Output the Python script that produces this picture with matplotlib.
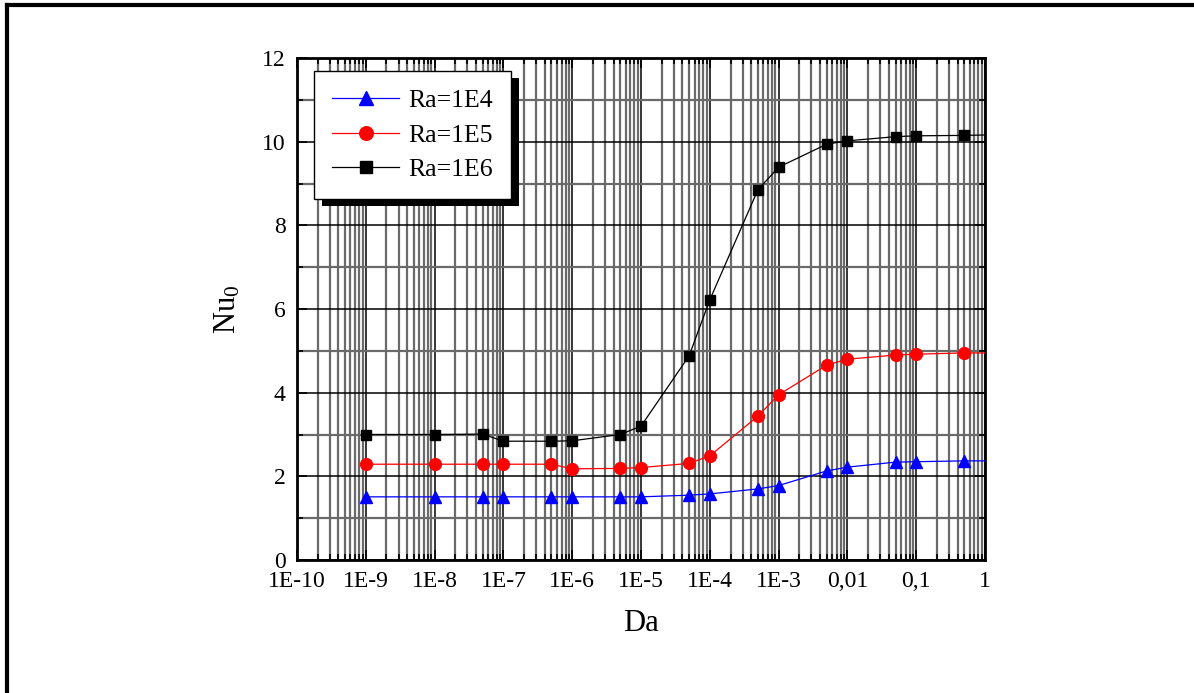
import numpy as np
import matplotlib.pyplot as plt
from matplotlib.lines import Line2D
from matplotlib.patches import Rectangle
from matplotlib.transforms import IdentityTransform
from matplotlib.ticker import LogLocator, NullFormatter, MultipleLocator

plt.rcParams['font.family'] = ['Liberation Serif', 'DejaVu Serif']
plt.rcParams['mathtext.fontset'] = 'custom'
plt.rcParams['mathtext.rm'] = 'Liberation Serif'
plt.rcParams['mathtext.it'] = 'Liberation Serif:italic'

# Darcy numbers (last value at Da=1 only continues the line, no marker)
da = [1e-9, 1e-8, 5e-8, 1e-7, 5e-7, 1e-6, 5e-6, 1e-5, 5e-5, 1e-4,
      5e-4, 1e-3, 5e-3, 1e-2, 5e-2, 1e-1, 5e-1, 1.0]
nu_ra1e4 = [1.51, 1.51, 1.51, 1.51, 1.51, 1.51, 1.51, 1.51, 1.55, 1.58,
            1.70, 1.78, 2.13, 2.22, 2.34, 2.35, 2.37, 2.37]
nu_ra1e5 = [2.29, 2.29, 2.29, 2.29, 2.29, 2.18, 2.19, 2.21, 2.31, 2.49,
            3.44, 3.95, 4.66, 4.80, 4.90, 4.92, 4.95, 4.95]
nu_ra1e6 = [3.00, 3.00, 3.01, 2.84, 2.84, 2.85, 3.00, 3.20, 4.88, 6.22,
            8.85, 9.39, 9.94, 10.02, 10.12, 10.14, 10.15, 10.16]

xtick_vals = [1e-10, 1e-9, 1e-8, 1e-7, 1e-6, 1e-5, 1e-4, 1e-3, 1e-2, 1e-1, 1]
xtick_labels = ['1E-10', '1E-9', '1E-8', '1E-7', '1E-6', '1E-5', '1E-4',
                '1E-3', '0,01', '0,1', '1']

fig = plt.figure(figsize=(11.94, 6.93), dpi=100)
ax = fig.add_axes([0.2487, 0.1919, 0.5763, 0.7244])

marks = list(range(len(da) - 1))
ax.plot(da, nu_ra1e4, color='blue', lw=0.9, marker='^', ms=9,
        markevery=marks, label='Ra=1E4', zorder=3)
ax.plot(da, nu_ra1e5, color='red', lw=0.9, marker='o', ms=8.5,
        markevery=marks, label='Ra=1E5', zorder=3)
ax.plot(da, nu_ra1e6, color='black', lw=0.9, marker='s', ms=7.5,
        markevery=marks, label='Ra=1E6', zorder=3)

ax.set_xscale('log')
ax.set_xlim(1e-10, 1)
ax.set_ylim(0, 12)
ax.set_xticks(xtick_vals)
ax.set_xticklabels(xtick_labels)
ax.xaxis.set_minor_locator(LogLocator(base=10, subs=np.arange(2, 10), numticks=100))
ax.xaxis.set_minor_formatter(NullFormatter())
ax.yaxis.set_major_locator(MultipleLocator(2))
ax.yaxis.set_minor_locator(MultipleLocator(1))

ax.grid(True, which='major', color='black', lw=1.1)
ax.grid(True, which='minor', color='#6a6a6a', lw=1.6)
ax.set_axisbelow(True)

ax.tick_params(which='both', direction='in', top=True, right=True,
               labelsize=17, width=1.2)
ax.tick_params(which='major', length=7, pad=8)
ax.tick_params(which='minor', length=4)
for s in ax.spines.values():
    s.set_linewidth(2)

ax.set_xlabel('Da', fontsize=22, labelpad=12)
ax.set_ylabel(r'$\mathrm{Nu}_0$', fontsize=22, labelpad=14)

leg = ax.legend(loc='upper left', bbox_to_anchor=(0.025, 0.974), fontsize=18.5,
                frameon=True, fancybox=False, framealpha=1, edgecolor='black',
                handlelength=2.6, handletextpad=0.35, borderpad=0.7,
                labelspacing=0.45, markerscale=1.15, borderaxespad=0)
leg.get_frame().set_linewidth(1.0)
leg.set_zorder(10)

# black drop shadow under the legend box
fig.canvas.draw()
bb = leg.get_window_extent()
shadow = Rectangle((bb.x0 + 8, bb.y0 - 7), bb.width, bb.height,
                   transform=IdentityTransform(), facecolor='black',
                   edgecolor='none', zorder=9, clip_on=False)
ax.add_artist(shadow)

# outer frame (top and left edges visible)
fig.add_artist(Line2D([7 / 1194, 1], [1 - 5 / 693, 1 - 5 / 693],
                      transform=fig.transFigure, color='black', lw=3))
fig.add_artist(Line2D([7 / 1194, 7 / 1194], [0, 1 - 5 / 693],
                      transform=fig.transFigure, color='black', lw=3))

fig.savefig('out.png', dpi=100)
